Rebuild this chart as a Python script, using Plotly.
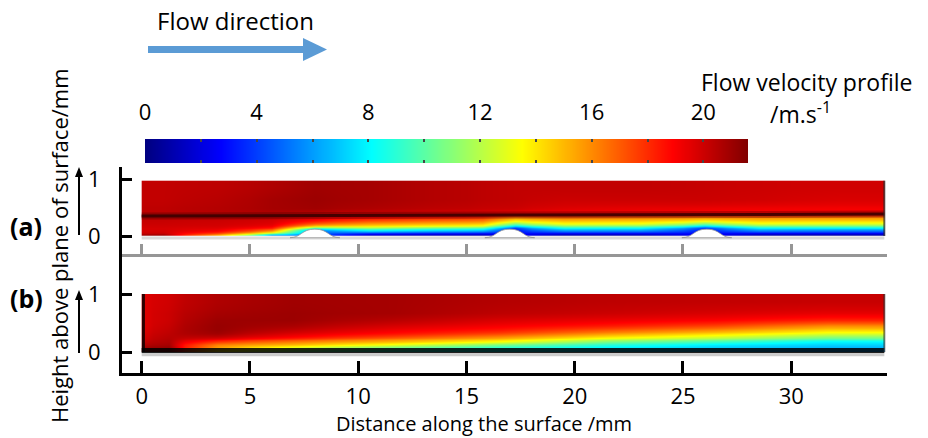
import numpy as np
import plotly.graph_objects as go

W, H = 928, 438
FONT = "Open Sans"

# ---------------- data ----------------
v_range = [0.0, 21.6]                 # flow velocity scale, m/s
cbar_tick_vals = [0, 4, 8, 12, 16, 20]
x_tick_vals = [0, 5, 10, 15, 20, 25, 30]
y_tick_vals = [0, 1]
x_axis_end = 34.39

# panel (a): surface with protrusions  (cells: x edges / y edges, profiles bottom -> top)
xa_edges = [0, 2, 5, 7, 9, 12, 15, 16.5, 18, 21, 25, 27, 30, 34.3]
ya_edges = [0, 0.04, 0.08, 0.12, 0.16, 0.20, 0.25, 0.30, 0.35, 0.42, 0.55, 0.75, 0.97]
va_profiles = [
    [21.0, 20.0, 19.8, 19.8, 19.9, 20.0, 20.1, 20.2, 20.3, 20.3, 20.2, 20.2],
    [15.5, 17.8, 19.2, 19.6, 19.8, 19.9, 20.0, 20.2, 20.4, 20.5, 20.4, 20.3],
    [6.5, 12.5, 16.2, 18.4, 19.2, 19.6, 19.8, 20.0, 20.5, 20.8, 20.8, 20.6],
    [5.0, 5.0, 5.0, 10.0, 14.5, 17.2, 18.8, 19.4, 20.2, 20.9, 21.0, 20.9],
    [1.5, 4.0, 8.0, 11.5, 14.0, 15.8, 17.5, 18.8, 19.8, 20.6, 20.8, 20.8],
    [1.2, 3.5, 7.2, 10.5, 13.3, 15.2, 16.8, 18.3, 19.6, 20.3, 20.5, 20.5],
    [1.2, 3.3, 6.8, 9.8, 12.8, 14.8, 16.4, 17.8, 19.4, 20.1, 20.3, 20.3],
    [3.0, 3.0, 3.0, 4.0, 7.5, 11.0, 14.0, 15.8, 19.0, 20.0, 20.2, 20.2],
    [1.0, 3.0, 6.0, 8.5, 11.0, 13.5, 15.0, 16.5, 19.0, 19.6, 20.0, 20.2],
    [1.0, 3.0, 6.0, 8.2, 10.8, 13.3, 14.8, 16.2, 19.0, 19.4, 20.0, 20.2],
    [3.0, 3.0, 3.0, 4.0, 7.5, 11.0, 14.0, 15.8, 18.8, 19.3, 20.0, 20.1],
    [1.0, 2.8, 5.8, 8.0, 10.6, 13.2, 14.7, 16.0, 18.8, 19.2, 19.9, 20.0],
    [0.8, 2.8, 5.5, 8.0, 10.5, 13.0, 14.6, 15.9, 18.8, 19.1, 19.7, 19.9],
]
shear_x = [0, 34.3]
shear_y = [0.35, 0.385]
hump_centres = [8.0, 17.0, 26.1]
hump_half_width = 1.15
hump_height = 0.12

# panel (b): smooth surface
xb_edges = [0, 0.5, 2, 5, 9, 14, 19, 24, 29, 34.3]
yb_edges = [0, 0.05, 0.10, 0.15, 0.20, 0.25, 0.30, 0.35, 0.42, 0.50, 0.60, 0.75, 1.0]
vb_profiles = [
    [21.6, 21.0, 20.5, 20.2, 20.0, 19.9, 19.8, 19.7, 19.6, 19.6, 19.6, 19.6],
    [21.6, 21.2, 20.8, 20.6, 20.5, 20.4, 20.3, 20.2, 20.1, 20.0, 20.0, 19.9],
    [14.0, 15.5, 16.2, 17.8, 19.3, 20.3, 20.9, 21.1, 21.1, 21.0, 20.8, 20.6],
    [11.0, 12.8, 15.0, 16.3, 17.8, 19.0, 19.6, 20.2, 20.7, 21.0, 21.0, 20.9],
    [9.0, 10.5, 13.2, 15.0, 16.2, 17.6, 18.6, 19.2, 19.8, 20.4, 20.8, 20.8],
    [8.0, 9.0, 10.8, 13.4, 14.8, 16.1, 17.4, 18.4, 19.1, 19.7, 20.3, 20.5],
    [7.0, 7.8, 9.0, 10.8, 12.5, 14.2, 15.6, 17.0, 18.4, 19.3, 20.0, 20.3],
    [6.5, 7.0, 7.8, 9.5, 11.3, 12.8, 14.2, 15.8, 17.5, 18.9, 19.7, 20.2],
    [6.0, 6.5, 7.2, 8.0, 9.8, 11.2, 12.8, 14.3, 16.0, 18.2, 19.4, 20.1],
]

# ---------------- helpers ----------------
def px(x):
    return x / W


def py(y):
    return 1 - y / H


jet = [[0.0, "rgb(0,0,128)"], [0.125, "rgb(0,0,255)"], [0.375, "rgb(0,255,255)"],
       [0.625, "rgb(255,255,0)"], [0.875, "rgb(255,0,0)"], [1.0, "rgb(128,0,0)"]]

fig = go.Figure()

# heatmaps
fig.add_trace(go.Heatmap(x=xa_edges, y=ya_edges, z=np.array(va_profiles).T,
                         coloraxis="coloraxis", zsmooth="best", hoverinfo="skip",
                         xaxis="x", yaxis="y"))
fig.add_trace(go.Heatmap(x=xb_edges, y=yb_edges, z=np.array(vb_profiles).T,
                         coloraxis="coloraxis", zsmooth="best", hoverinfo="skip",
                         xaxis="x2", yaxis="y2"))

# colour scale bar (drawn from the same colour axis)
scale_levels = np.linspace(v_range[0], v_range[1], 300)
fig.add_trace(go.Heatmap(x=scale_levels, y=[0.5], z=[scale_levels], coloraxis="coloraxis",
                         zsmooth="best", hoverinfo="skip", xaxis="x3", yaxis="y3"))

# shear-layer line in (a)
fig.add_trace(go.Scatter(x=shear_x, y=shear_y, mode="lines", xaxis="x", yaxis="y",
                         line=dict(color="rgba(70,0,0,0.35)", width=7), hoverinfo="skip"))
fig.add_trace(go.Scatter(x=shear_x, y=shear_y, mode="lines", xaxis="x", yaxis="y",
                         line=dict(color="rgba(60,0,0,0.9)", width=3), hoverinfo="skip"))
# outlet edge (a)
fig.add_trace(go.Scatter(x=[xa_edges[-1]] * 2, y=[ya_edges[0], ya_edges[-1]], mode="lines",
                         xaxis="x", yaxis="y", line=dict(color="rgba(40,40,40,0.7)", width=2),
                         hoverinfo="skip"))
# bottom shadow (a)
fig.add_trace(go.Scatter(x=[xa_edges[0], xa_edges[-1]], y=[-0.035, -0.035], mode="lines",
                         xaxis="x", yaxis="y", line=dict(color="rgba(0,0,0,0.15)", width=3),
                         hoverinfo="skip"))
# wall (b): dark boundary at the surface and at the leading edge
fig.add_trace(go.Scatter(x=[xb_edges[0], xb_edges[-1]], y=[0.025, 0.025], mode="lines",
                         xaxis="x2", yaxis="y2", line=dict(color="rgba(0,0,0,0.85)", width=5),
                         hoverinfo="skip"))
fig.add_trace(go.Scatter(x=[xb_edges[0], xb_edges[-1]], y=[-0.04, -0.04], mode="lines",
                         xaxis="x2", yaxis="y2", line=dict(color="rgba(0,0,0,0.2)", width=4),
                         hoverinfo="skip"))
fig.add_trace(go.Scatter(x=[0.08, 0.08], y=[yb_edges[0], yb_edges[-1]], mode="lines",
                         xaxis="x2", yaxis="y2", line=dict(color="rgba(0,0,0,0.8)", width=3),
                         hoverinfo="skip"))
fig.add_trace(go.Scatter(x=[xb_edges[-1]] * 2, y=[yb_edges[0], yb_edges[-1]], mode="lines",
                         xaxis="x2", yaxis="y2", line=dict(color="rgba(40,40,40,0.6)", width=2),
                         hoverinfo="skip"))

shapes = []
# protrusions
for c in hump_centres:
    w, h = hump_half_width, hump_height
    path = (f"M {c - w},-0.03 C {c - 0.55 * w},-0.03 {c - 0.55 * w},{h} {c},{h} "
            f"C {c + 0.55 * w},{h} {c + 0.55 * w},-0.03 {c + w},-0.03 Z")
    shapes.append(dict(type="path", path=path, xref="x", yref="y", fillcolor="white",
                       line=dict(color="rgba(150,150,150,0.8)", width=1), layer="above"))

# flow-direction arrow
arrow_blue = "rgb(91,155,213)"
shapes.append(dict(type="rect", xref="paper", yref="paper", x0=px(148), x1=px(305),
                   y0=py(53), y1=py(46), fillcolor=arrow_blue, line=dict(width=0)))
shapes.append(dict(type="path", xref="paper", yref="paper",
                   path=f"M {px(303)},{py(38)} L {px(327)},{py(49.5)} L {px(303)},{py(61)} Z",
                   fillcolor=arrow_blue, line=dict(width=0)))
# height arrows
for y_bot, y_tip in [(235, 167), (353, 290)]:
    shapes.append(dict(type="line", xref="paper", yref="paper", x0=px(79), x1=px(79),
                       y0=py(y_bot), y1=py(y_tip + 8), line=dict(color="black", width=2)))
    shapes.append(dict(type="path", xref="paper", yref="paper",
                       path=f"M {px(75)},{py(y_tip + 10)} L {px(79)},{py(y_tip)} L {px(83)},{py(y_tip + 10)} Z",
                       fillcolor="black", line=dict(width=0)))


def ann(text, x, y, size, **kw):
    d = dict(text=text, x=px(x), y=py(y), xref="paper", yref="paper", showarrow=False,
             xanchor="center", yanchor="middle",
             font=dict(family=FONT, size=size, color="black"))
    d.update(kw)
    return d


annotations = [
    ann("Flow direction", 235, 21, 24),
    ann("Flow velocity profile", 806, 82, 23),
    ann("/m.s<sup>-1</sup>", 800, 113, 23),
    ann("<b>(a)</b>", 26, 226, 25),
    ann("<b>(b)</b>", 26, 298, 25),
    ann("Height above plane of surface/mm", 59, 246, 22, textangle=-90),
    ann("Distance along the surface /mm", 484, 423, 20),
]

x_dom = [px(122), px(887)]
x_rng = [(122 - 141.7) / 21.67, (887 - 141.7) / 21.67 + 0.03]
tick_font = dict(family=FONT, size=22, color="black")

common_x = dict(domain=x_dom, range=x_rng, showgrid=False, zeroline=False, showline=True,
                linewidth=3, ticks="inside", tickwidth=3, automargin=False,
                tickvals=x_tick_vals + [x_axis_end],
                ticktext=[str(v) for v in x_tick_vals] + [""])
common_y = dict(showgrid=False, zeroline=False, showline=True, linecolor="black", linewidth=3,
                ticks="inside", ticklen=10, tickwidth=3, tickcolor="black", automargin=False,
                tickvals=y_tick_vals, tickfont=tick_font, ticklabelstandoff=14)

fig.update_layout(
    width=W, height=H, margin=dict(l=0, r=0, t=0, b=0, pad=0, autoexpand=False),
    paper_bgcolor="white", plot_bgcolor="white", showlegend=False,
    font=dict(family=FONT, color="black"),
    coloraxis=dict(colorscale=jet, cmin=v_range[0], cmax=v_range[1], showscale=False),
    xaxis=dict(**common_x, anchor="y", linecolor="rgb(150,150,150)", tickcolor="rgb(150,150,150)",
               ticklen=10, showticklabels=False),
    yaxis=dict(**common_y, anchor="x", domain=[py(254), py(167)],
               range=[(236 - 254) / 57, (236 - 167) / 57]),
    xaxis2=dict(**common_x, anchor="y2", linecolor="black", tickcolor="black", ticklen=12,
                tickfont=tick_font, ticklabelstandoff=2),
    yaxis2=dict(**common_y, anchor="x2", domain=[py(373), py(254)],
                range=[(352 - 373) / 58, (352 - 254) / 58]),
    xaxis3=dict(anchor="y3", domain=[px(145), px(748)], range=v_range, side="top",
                showgrid=False, zeroline=False, showline=False, tickvals=cbar_tick_vals,
                ticks="inside", ticklen=3, tickwidth=2, tickcolor="rgb(70,70,70)",
                mirror="ticks", tickfont=tick_font, ticklabelstandoff=14, automargin=False,
                minor=dict(dtick=2, tick0=0, ticks="inside", ticklen=3, tickwidth=2,
                           tickcolor="rgb(70,70,70)")),
    yaxis3=dict(anchor="x3", domain=[py(163), py(139)], range=[0, 1], showgrid=False,
                zeroline=False, showline=False, showticklabels=False, ticks="",
                automargin=False),
    shapes=shapes, annotations=annotations,
)

fig.write_html("out.html")
